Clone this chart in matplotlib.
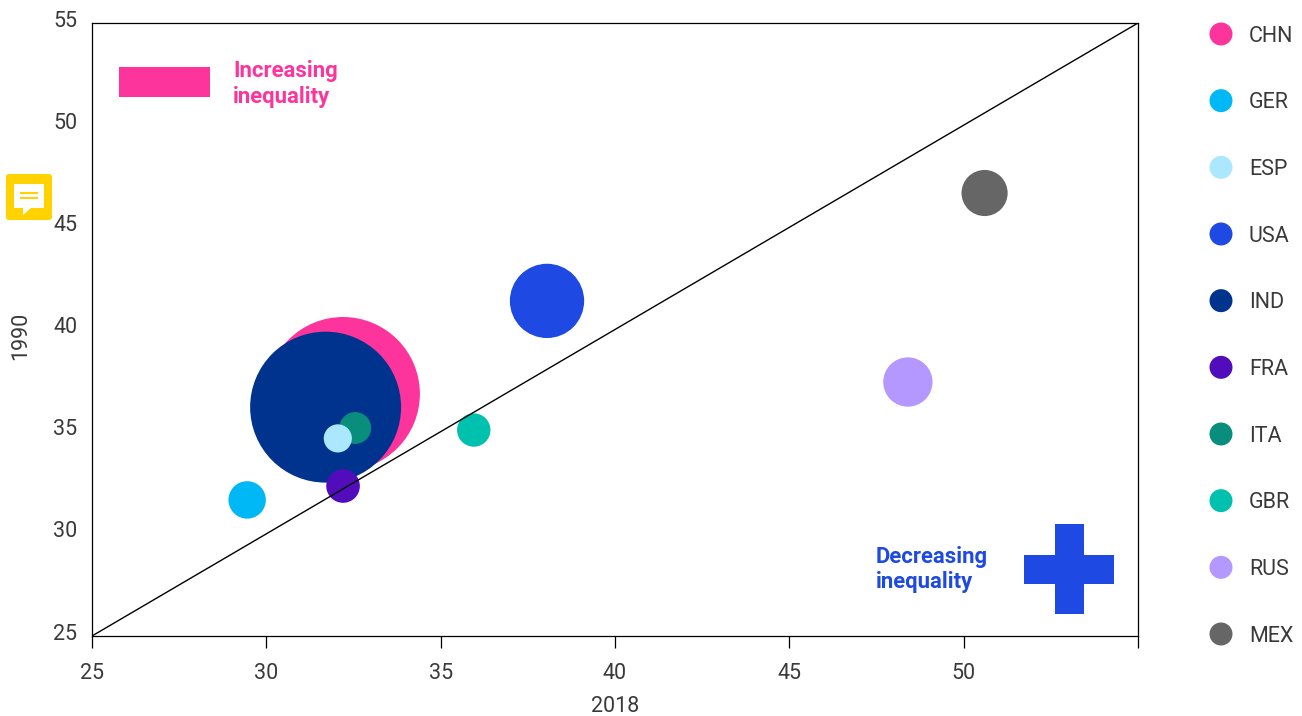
import numpy as np
import matplotlib
matplotlib.use('Agg')
import matplotlib.pyplot as plt
from matplotlib.patches import Rectangle, FancyBboxPatch, Polygon
from matplotlib.transforms import ScaledTranslation

plt.rcParams['font.family'] = ['Roboto', 'Liberation Sans', 'DejaVu Sans']

# legend order
countries = ['CHN', 'GER', 'ESP', 'USA', 'IND', 'FRA', 'ITA', 'GBR', 'RUS', 'MEX']
gini_2018 = [32.2, 29.45, 32.05, 38.05, 31.7, 32.2, 32.55, 35.95, 48.4, 50.6]
gini_1990 = [36.85, 31.66, 34.67, 41.4, 36.2, 32.34, 35.18, 35.08, 37.43, 46.68]
population = [1400, 83, 47, 327, 1350, 67, 60, 66, 144, 126]
colors = ['#FD349C', '#00B8F5', '#ABE8FF', '#1E49E2', '#00338D',
          '#510DBC', '#098E7E', '#00C0AE', '#B497FF', '#666666']
x_ticks = [25, 30, 35, 40, 45, 50, 55]
x_tick_labels = ['25', '30', '35', '40', '45', '50', '']
y_ticks = [25, 30, 35, 40, 45, 50, 55]

W, H = 1302, 716
TEXT = '#3a3a3a'
SIZE_PER_POP = 8.75

fig = plt.figure(figsize=(W / 100, H / 100), dpi=100)
ax = fig.add_axes([92 / W, 1 - 636 / H, 1046 / W, 613 / H])

# big bubbles first so the small ones stay on top
order = np.argsort(population)[::-1]
ax.scatter(np.array(gini_2018)[order], np.array(gini_1990)[order],
           s=np.array(population)[order] * SIZE_PER_POP,
           c=np.array(colors)[order], linewidths=0, zorder=2, clip_on=False)
ax.plot([25, 55], [25, 55], color='black', lw=1.0, zorder=3)

ax.set_xlim(25, 55)
ax.set_ylim(25, 55)
ax.set_xticks(x_ticks)
ax.set_xticklabels(x_tick_labels)
ax.set_yticks(y_ticks)
ax.tick_params(axis='x', length=8.5, width=0.9, pad=11, labelsize=15.5, labelcolor=TEXT)
ax.tick_params(axis='y', length=0, pad=10.5, labelsize=15.5, labelcolor=TEXT)
# y labels sit a little above their gridline in the original
shift = ScaledTranslation(0, 4.5 / 100, fig.dpi_scale_trans)
for lab in ax.get_yticklabels():
    lab.set_transform(lab.get_transform() + shift)
for s in ax.spines.values():
    s.set_linewidth(0.9)

# overlay in pixel coordinates for legend, notes and the comment icon
ov = fig.add_axes([0, 0, 1, 1], facecolor='none')
ov.set_xlim(0, W)
ov.set_ylim(H, 0)
ov.axis('off')

ov.text(615, 706, '2018', ha='center', va='center', fontsize=15.5, color=TEXT)
ov.text(21, 336, '1990', ha='center', va='center', rotation=90, fontsize=15.5, color=TEXT)

legend_y = np.linspace(34, 634, len(countries))
ov.scatter([1221] * len(countries), legend_y, s=(23 * 0.72) ** 2, c=colors, linewidths=0)
for name, y in zip(countries, legend_y):
    ov.text(1249, y + 2, name, ha='left', va='center', fontsize=15.5, color=TEXT)

ov.add_patch(Rectangle((119, 67), 91, 30, fc='#FD349C', lw=0))
ov.text(233, 84, 'Increasing\ninequality', color='#FD349C', fontsize=15.9, fontweight='bold',
        va='center', ha='left', linespacing=1.2)

ov.add_patch(Rectangle((1023.5, 554.5), 90.5, 29, fc='#1E49E2', lw=0))
ov.add_patch(Rectangle((1054.5, 523.5), 29, 90.5, fc='#1E49E2', lw=0))
ov.text(876, 569.5, 'Decreasing\ninequality', color='#1E49E2', fontsize=15.9, fontweight='bold',
        va='center', ha='left', linespacing=1.2)

# comment icon
ov.add_patch(FancyBboxPatch((6, 174), 46, 46, boxstyle='round,pad=0,rounding_size=3',
                            fc='#FFD200', lw=0))
ov.add_patch(Polygon([(14, 184), (44, 184), (44, 208), (31, 208), (23, 215), (23, 208), (14, 208)],
                     fc='white', lw=0))
ov.add_patch(Rectangle((20, 192), 18, 1.6, fc='#FFD200', lw=0))
ov.add_patch(Rectangle((20, 197), 18, 1.6, fc='#FFD200', lw=0))

fig.savefig('out.png', dpi=100)
